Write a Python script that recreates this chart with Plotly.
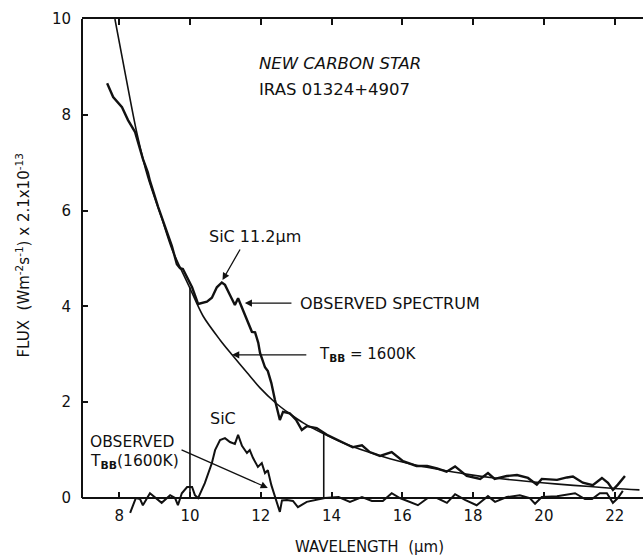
import plotly.graph_objects as go

# ---------------- data ----------------
bb_x = [7.88, 8.2, 8.5, 8.81, 9.2, 9.49, 10.0, 10.37, 10.85, 11.19, 11.61, 11.98, 12.4,
        12.8, 13.2, 13.78, 14.3, 15.0, 15.65, 16.3, 17.0, 17.8, 18.6, 19.5, 20.4, 21.3,
        22.0, 22.7]
bb_y = [10.0, 8.75, 7.62, 6.70, 5.85, 5.20, 4.38, 3.80, 3.30, 2.99, 2.62, 2.30, 2.00,
        1.77, 1.57, 1.34, 1.16, 0.97, 0.82, 0.70, 0.60, 0.50, 0.42, 0.35, 0.29, 0.24,
        0.20, 0.17]

obs_x = [7.66, 7.83, 8.08, 8.25, 8.45, 8.67, 8.81, 8.87, 9.10, 9.35, 9.49, 9.63, 9.72,
         9.80, 9.94, 10.06, 10.23, 10.48, 10.62, 10.76, 10.9, 10.99, 11.13, 11.27, 11.36,
         11.47, 11.61, 11.75, 11.84, 11.93, 11.98, 12.12, 12.2, 12.3, 12.4, 12.54, 12.63,
         12.82, 13.0, 13.16, 13.3, 13.58, 13.87, 14.2, 14.6, 14.86, 15.08, 15.37, 15.7,
         16.02, 16.4, 16.7, 16.98, 17.25, 17.49, 17.82, 18.2, 18.42, 18.61, 18.95, 19.24,
         19.55, 19.8, 19.94, 20.37, 20.65, 20.82, 21.1, 21.38, 21.64, 21.81, 21.95, 22.09,
         22.29]
obs_y = [8.66, 8.37, 8.16, 7.89, 7.64, 7.08, 6.80, 6.62, 6.08, 5.58, 5.26, 4.88, 4.80,
         4.78, 4.58, 4.40, 4.05, 4.10, 4.18, 4.40, 4.50, 4.45, 4.24, 4.03, 4.17,
         3.97, 3.72, 3.47, 3.46, 3.24, 3.03, 2.73, 2.65, 2.40, 2.05, 1.63, 1.80,
         1.77, 1.63, 1.42, 1.50, 1.46, 1.32, 1.20, 1.06, 1.10, 0.96, 0.88, 0.96,
         0.77, 0.67, 0.67, 0.62, 0.55, 0.66, 0.46, 0.40, 0.52, 0.40, 0.46, 0.48,
         0.42, 0.28, 0.40, 0.38, 0.43, 0.45, 0.32, 0.27, 0.42, 0.32, 0.17, 0.28,
         0.46]

sic_x = [8.31, 8.47, 8.59, 8.67, 8.87, 9.01, 9.2, 9.44, 9.58, 9.66, 9.77, 9.92, 10.06,
         10.14, 10.23, 10.42, 10.62, 10.71, 10.85, 10.99, 11.13, 11.27, 11.36, 11.47,
         11.61, 11.69, 11.78, 11.92, 12.03, 12.12, 12.2, 12.3, 12.4, 12.54, 12.6, 12.74,
         12.91, 13.05, 13.3, 13.58, 13.81, 14.2, 14.52, 14.86, 15.14, 15.45, 15.7, 15.93,
         16.21, 16.44, 16.72, 16.98, 17.26, 17.49, 17.77, 18.1, 18.25, 18.42, 18.62,
         18.95, 19.32, 19.6, 19.75, 19.94, 20.37, 20.65, 20.88, 21.16, 21.36, 21.58,
         21.78, 21.95, 22.09, 22.23]
sic_y = [-0.31, 0.0, -0.02, -0.15, 0.10, 0.02, -0.10, 0.06, 0.0, -0.15, 0.10, 0.23, 0.23,
         0.06, 0.0, 0.31, 0.73, 1.0, 1.21, 1.25, 1.17, 1.13, 1.32, 1.09,
         0.94, 1.0, 0.84, 0.65, 0.73, 0.52, 0.58, 0.27, 0.02, -0.29, -0.05, -0.04,
         -0.06, -0.19, -0.08, -0.04, 0.0, 0.02, -0.08, 0.02, -0.06, -0.06, 0.10, 0.0,
         -0.08, -0.15, 0.0, 0.0, -0.10, 0.08, -0.04, -0.15, -0.06, 0.04, -0.08,
         0.02, 0.06, 0.0, -0.12, 0.02, 0.04, 0.08, 0.10, -0.02, -0.02, 0.10,
         0.10, -0.10, 0.0, 0.15]

vline_x = [10.0, 13.78]
vline_top = [4.40, 1.34]

x_ticks = [8, 10, 12, 14, 16, 18, 20, 22]
y_ticks = [0, 2, 4, 6, 8, 10]

# ---------------- figure ----------------
FONT = "DejaVu Sans"
INK = "#111111"
fig = go.Figure()

fig.add_trace(go.Scatter(x=bb_x, y=bb_y, mode="lines",
                         line=dict(color=INK, width=1.6, shape="spline", smoothing=0.8),
                         showlegend=False, hoverinfo="skip"))
fig.add_trace(go.Scatter(x=obs_x, y=obs_y, mode="lines", line=dict(color=INK, width=2.4),
                         showlegend=False, hoverinfo="skip"))
fig.add_trace(go.Scatter(x=sic_x, y=sic_y, mode="lines", line=dict(color=INK, width=2.0),
                         showlegend=False, hoverinfo="skip"))
for vx, vt in zip(vline_x, vline_top):
    fig.add_trace(go.Scatter(x=[vx, vx], y=[0, vt], mode="lines", line=dict(color=INK, width=1.6),
                             showlegend=False, hoverinfo="skip"))

# invisible trace so that the top (mirror) axis is drawn
fig.add_trace(go.Scatter(x=[x_ticks[0]], y=[y_ticks[0]], xaxis="x2", mode="markers",
                         marker=dict(opacity=0), showlegend=False, hoverinfo="skip"))

YMIN = -0.5
XR = [6.95, 22.8]
fig.update_layout(
    width=643, height=556,
    margin=dict(l=82, r=0, t=19, b=34),
    paper_bgcolor="white", plot_bgcolor="white",
    font=dict(family=FONT, size=15, color=INK),
    xaxis=dict(range=XR, tickvals=x_ticks, ticktext=[str(v) for v in x_ticks],
               showgrid=False, zeroline=False, showline=True, linecolor=INK, linewidth=2,
               ticks="inside", ticklen=5, tickwidth=1.5, tickcolor=INK,
               anchor="free", position=(0 - YMIN) / (10 - YMIN),
               tickfont=dict(family=FONT, size=15, color=INK), ticklabelstandoff=4),
    xaxis2=dict(range=XR, overlaying="x", side="top", tickvals=x_ticks, showticklabels=False,
                showgrid=False, zeroline=False, showline=True, linecolor=INK, linewidth=2,
                ticks="inside", ticklen=6, tickwidth=1.5, tickcolor=INK),
    yaxis=dict(range=[YMIN, 10], tickvals=y_ticks, ticktext=[str(v) for v in y_ticks],
               showgrid=False, zeroline=False, showline=False,
               ticks="inside", ticklen=6, tickwidth=1.5, tickcolor=INK,
               tickfont=dict(family=FONT, size=15, color=INK), ticklabelstandoff=10),
)

# left spine from 0 to 10
fig.add_shape(type="line", xref="paper", yref="y", x0=0, x1=0, y0=0, y1=10,
              line=dict(color=INK, width=2))

def txt(x, y, s, anchor="left", size=15, italic=False):
    fig.add_annotation(x=x, y=y, xref="x", yref="y", text=s, showarrow=False,
                       xanchor=anchor, yanchor="middle",
                       font=dict(family=FONT, size=size, color=INK,
                                 style="italic" if italic else "normal"))

def arrow(x0, y0, x1, y1):
    fig.add_annotation(x=x1, y=y1, ax=x0, ay=y0, xref="x", yref="y", axref="x", ayref="y",
                       text="", showarrow=True, arrowhead=2, arrowsize=1.1, arrowwidth=1.3,
                       arrowcolor=INK, standoff=0, startstandoff=0)

txt(11.89, 9.08, "NEW CARBON STAR", italic=True, size=16.5)
txt(11.89, 8.52, "IRAS 01324+4907", size=16.5)
txt(10.48, 5.45, "SiC 11.2μm", size=16)
arrow(11.44, 5.22, 10.92, 4.55)
txt(13.05, 4.07, "OBSERVED SPECTRUM", size=16)
arrow(12.91, 4.07, 11.55, 4.07)
txt(13.59, 2.99, "T<sub><b>BB</b></sub> = 1600K", size=15)
arrow(13.33, 2.99, 11.19, 2.99)
txt(10.93, 1.67, "SiC", anchor="center", size=16)
txt(7.12, 1.17, "OBSERVED", size=15.5)
txt(7.12, 0.75, "T<sub><b>BB</b></sub>(1600K)", size=15.5)
arrow(9.72, 1.02, 12.2, 0.21)

# axis titles (paper coordinates so they are never hidden)
fig.add_annotation(x=0.513, y=-0.05, xref="paper", yref="paper", text="WAVELENGTH  (μm)",
                   showarrow=False, xanchor="center", yanchor="middle",
                   font=dict(family=FONT, size=15, color=INK))
fig.add_annotation(x=-0.105, y=0.53, xref="paper", yref="paper",
                   text="FLUX  (Wm<sup>-2</sup>s<sup>-1</sup>) x 2.1x10<sup>-13</sup>",
                   textangle=-90, showarrow=False, xanchor="center", yanchor="middle",
                   font=dict(family=FONT, size=15, color=INK))

fig.write_html("out.html")
